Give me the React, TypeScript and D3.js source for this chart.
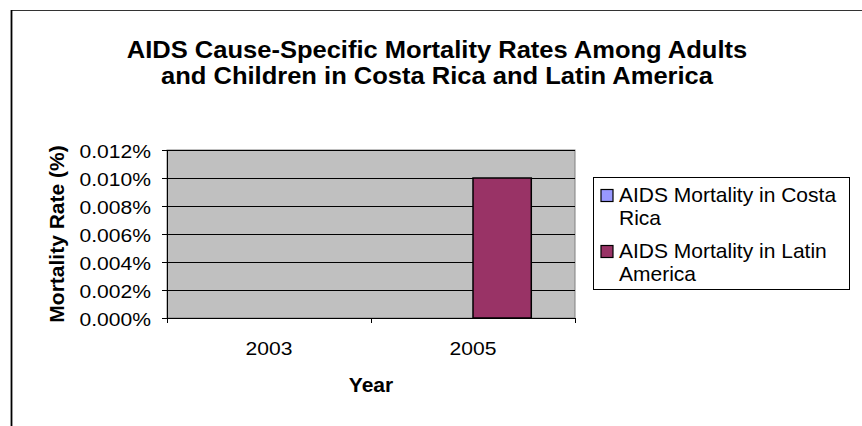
import React from "react";
import * as d3 from "d3";

const years = ["2003", "2005"];
const seriesNames = ["AIDS Mortality in Costa Rica", "AIDS Mortality in Latin America"];
const costaRica: (number | null)[] = [null, null];
const latinAmerica: (number | null)[] = [null, 0.01];
const yTicks = [0, 0.002, 0.004, 0.006, 0.008, 0.01, 0.012];
const titleLines = [
  "AIDS Cause-Specific Mortality Rates Among Adults",
  "and Children in Costa Rica and Latin America",
];
const legendLines = [["AIDS Mortality in Costa", "Rica"], ["AIDS Mortality in Latin", "America"]];
const colors = ["#9999FF", "#993366"];

const W = 862, H = 426;
const plot = { left: 167, right: 575, top: 150, bottom: 318 };
const FONT = "'Liberation Sans', Arial, sans-serif";

function SText({ x, y, sx = 1.11, anchor = "middle", size, bold = false, children }: any) {
  return (
    <text
      transform={`translate(${x},${y}) scale(${sx},1)`}
      textAnchor={anchor}
      fontSize={size}
      fontWeight={bold ? "bold" : "normal"}
      fontFamily={FONT}
      fill="#000"
    >
      {children}
    </text>
  );
}

export default function App() {
  const x0 = d3.scaleBand<string>().domain(years).range([plot.left, plot.right]).paddingInner(0).paddingOuter(0);
  const x1 = d3.scaleBand<string>().domain(seriesNames).range([0, x0.bandwidth()]).paddingInner(0).paddingOuter(0.75);
  const y = d3.scaleLinear().domain([0, 0.012]).range([plot.bottom, plot.top]);
  const fmt = (v: number) => d3.format(".3f")(v) + "%";
  const seriesData = [costaRica, latinAmerica];
  const xTickPos = [...years.map((yr) => x0(yr)!), plot.right];

  return (
    <svg width={W} height={H} style={{ position: "absolute", left: 0, top: 0, background: "#fff" }}>
      <rect x={0} y={0} width={W} height={H} fill="#fff" />
      {/* outer chart border */}
      <line x1={11.5} y1={10.5} x2={W} y2={10.5} stroke="#333" strokeWidth={1.2} />
      <line x1={11.5} y1={10} x2={11.5} y2={H} stroke="#000" strokeWidth={1.8} />

      {/* title */}
      {titleLines.map((t, i) => (
        <SText key={t} x={437} y={58 + i * 25.5} size={23} bold sx={1.11}>
          {t}
        </SText>
      ))}

      {/* plot area */}
      <rect x={plot.left} y={plot.top} width={plot.right - plot.left} height={plot.bottom - plot.top} fill="#C0C0C0" stroke="#808080" strokeWidth={1} />
      {yTicks.slice(1).map((v) => (
        <line key={"g" + v} x1={plot.left} x2={plot.right} y1={Math.round(y(v)) + 0.5} y2={Math.round(y(v)) + 0.5} stroke="#000" strokeWidth={1} />
      ))}

      {/* bars */}
      {seriesData.map((vals, si) =>
        vals.map((v, i) =>
          v == null ? null : (
            <rect
              key={si + "-" + i}
              x={x0(years[i])! + x1(seriesNames[si])!}
              y={y(v)}
              width={x1.bandwidth()}
              height={y(0) - y(v)}
              fill={colors[si]}
              stroke="#000"
              strokeWidth={1.5}
            />
          )
        )
      )}

      {/* axes */}
      <line x1={plot.left + 0.5} x2={plot.left + 0.5} y1={plot.top} y2={plot.bottom + 5} stroke="#000" strokeWidth={1} />
      <line x1={plot.left - 5} x2={plot.right} y1={plot.bottom + 0.5} y2={plot.bottom + 0.5} stroke="#000" strokeWidth={1.2} />
      {yTicks.map((v) => (
        <g key={"t" + v}>
          <line x1={plot.left - 5} x2={plot.left} y1={Math.round(y(v)) + 0.5} y2={Math.round(y(v)) + 0.5} stroke="#000" />
          <SText x={151} y={y(v) + 8} anchor="end" size={19} sx={1.11}>
            {fmt(v)}
          </SText>
        </g>
      ))}
      {xTickPos.map((p, i) => (
        <line key={"xt" + i} x1={Math.round(p) + 0.5} x2={Math.round(p) + 0.5} y1={plot.bottom} y2={plot.bottom + 5} stroke="#000" />
      ))}
      {years.map((yr) => (
        <SText key={yr} x={x0(yr)! + x0.bandwidth() / 2} y={355} size={19} sx={1.11}>
          {yr}
        </SText>
      ))}

      {/* axis titles */}
      <SText x={371} y={392} size={21} bold sx={1}>
        Year
      </SText>
      <text
        transform={`translate(64,${(plot.top + plot.bottom) / 2}) rotate(-90)`}
        textAnchor="middle"
        fontSize={21}
        fontWeight="bold"
        fontFamily={FONT}
      >
        Mortality Rate (%)
      </text>

      {/* legend */}
      <rect x={593.5} y={177.5} width={256} height={112} fill="#fff" stroke="#000" strokeWidth={1} />
      {seriesNames.map((s, i) => (
        <g key={s}>
          <rect x={601} y={189.5 + i * 56} width={12} height={12} fill={colors[i]} stroke="#000" strokeWidth={1.2} />
          {legendLines[i].map((ln, j) => (
            <text key={ln} x={619} y={202 + i * 56 + j * 22.5} fontSize={21} fontFamily={FONT}>
              {ln}
            </text>
          ))}
        </g>
      ))}
    </svg>
  );
}
